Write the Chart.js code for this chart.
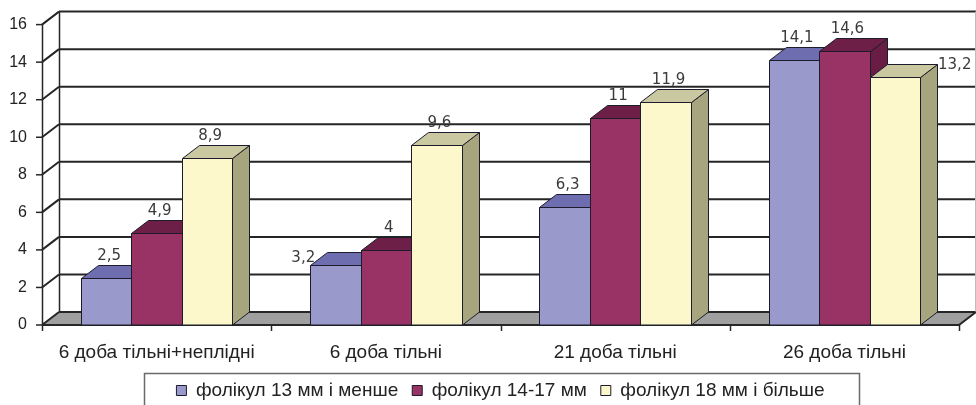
<!DOCTYPE html>
<html>
<head>
<meta charset="utf-8">
<script src="https://cdn.jsdelivr.net/npm/chart.js@4/dist/chart.umd.min.js"></script>
<style>
  html, body { margin: 0; padding: 0; background: #ffffff; }
  #wrap { width: 976px; height: 405px; position: relative; }
</style>
</head>
<body>
<div id="wrap"><canvas id="chart"></canvas></div>
<script>
// Categories (groups along the x axis)
const categories = ['6 доба тільні+неплідні', '6 доба тільні', '21 доба тільні', '26 доба тільні'];

// Series names
const seriesNames = ['фолікул 13 мм і менше', 'фолікул 14-17 мм', 'фолікул 18 мм і більше'];

// Series values, one per category
const follicleSmall  = [2.5, 3.2, 6.3, 14.1];
const follicleMedium = [4.9, 4, 11, 14.6];
const follicleLarge  = [8.9, 9.6, 11.9, 13.2];

// Value axis ticks
const yTickValues = [0, 2, 4, 6, 8, 10, 12, 14, 16];

// Face colours of the boxes: front, top, side
const palette = [
  { front: '#9999cc', top: '#6d6db0', side: '#6f6f9c' },
  { front: '#993366', top: '#6e1f47', side: '#6a1d44' },
  { front: '#fcf8cc', top: '#c9c8a0', side: '#a6a57e' }
];

// Depth of the pseudo-3D extrusion
const DEPTH_X = 17;
const DEPTH_Y = 13;
const LINE = '#262626';

// Horizontal nudge of the legend row
const LEGEND_SHIFT = 21;

// Labels that sit beside the box instead of above it
const labelSide = { '0-1': 'left', '2-3': 'right' };

const fmt = v => String(v).replace('.', ',');

const box3d = {
  id: 'box3d',
  afterLayout(chart) {
    const lg = chart.legend;
    if (lg) {
      lg.left += LEGEND_SHIFT;
      lg.right += LEGEND_SHIFT;
    }
  },
  beforeDatasetsDraw(chart) {
    const ctx = chart.ctx;
    const ca = chart.chartArea;
    const ys = chart.scales.y;
    const L = ca.left, R = ca.right, B = ca.bottom;
    const dx = DEPTH_X, dy = DEPTH_Y;
    const yTop = ys.getPixelForValue(16);
    ctx.save();

    // floor
    ctx.beginPath();
    ctx.moveTo(L, B);
    ctx.lineTo(L + dx, B - dy);
    ctx.lineTo(R + dx, B - dy);
    ctx.lineTo(R, B);
    ctx.closePath();
    ctx.fillStyle = '#9f9f9f';
    ctx.fill();

    // grid on back wall and left wall, tick marks
    ctx.strokeStyle = LINE;
    yTickValues.forEach(v => {
      const y = ys.getPixelForValue(v);
      ctx.lineWidth = 2;
      ctx.beginPath();
      ctx.moveTo(L + dx, y - dy);
      ctx.lineTo(R + dx, y - dy);
      ctx.moveTo(L, y);
      ctx.lineTo(L + dx, y - dy);
      ctx.stroke();
      ctx.lineWidth = 1.5;
      ctx.beginPath();
      ctx.moveTo(L - 6, y);
      ctx.lineTo(L, y);
      ctx.stroke();
    });

    // wall edges
    ctx.lineWidth = 1.5;
    ctx.beginPath();
    ctx.moveTo(L + 0.5, yTop);
    ctx.lineTo(L + 0.5, B);
    ctx.moveTo(L + dx + 0.5, yTop - dy);
    ctx.lineTo(L + dx + 0.5, B - dy);
    ctx.stroke();
    ctx.strokeStyle = '#bdbdbd';
    ctx.lineWidth = 1;
    ctx.beginPath();
    ctx.moveTo(R + dx - 0.5, yTop - dy);
    ctx.lineTo(R + dx - 0.5, B - dy);
    ctx.stroke();

    // front edge of the floor (category axis) and its right end
    ctx.strokeStyle = LINE;
    ctx.lineWidth = 2;
    ctx.beginPath();
    ctx.moveTo(L, B);
    ctx.lineTo(R, B);
    ctx.lineTo(R + dx, B - dy);
    ctx.stroke();

    // category boundary ticks
    ctx.lineWidth = 1.5;
    const step = (R - L) / categories.length;
    for (let i = 0; i <= categories.length; i++) {
      const x = Math.round(L + step * i) + 0.5;
      ctx.beginPath();
      ctx.moveTo(x, B);
      ctx.lineTo(x, B + 6);
      ctx.stroke();
    }

    // boxes: left to right inside each group so nearer faces cover the farther ones
    const metas = chart.data.datasets.map((d, i) => chart.getDatasetMeta(i));
    ctx.lineWidth = 1;
    ctx.strokeStyle = '#1c1c2c';
    ctx.lineJoin = 'round';
    for (let i = 0; i < categories.length; i++) {
      metas.forEach((meta, d) => {
        const bar = meta.data[i];
        const c = palette[d];
        const l = Math.round(bar.x - bar.width / 2) + 0.5;
        const r = Math.round(bar.x + bar.width / 2) + 0.5;
        const t = Math.round(bar.y) + 0.5;
        const b = Math.round(bar.base);
        // side
        ctx.beginPath();
        ctx.moveTo(r, t);
        ctx.lineTo(r + dx, t - dy);
        ctx.lineTo(r + dx, b - dy);
        ctx.lineTo(r, b);
        ctx.closePath();
        ctx.fillStyle = c.side;
        ctx.fill();
        ctx.stroke();
        // top
        ctx.beginPath();
        ctx.moveTo(l, t);
        ctx.lineTo(l + dx, t - dy);
        ctx.lineTo(r + dx, t - dy);
        ctx.lineTo(r, t);
        ctx.closePath();
        ctx.fillStyle = c.top;
        ctx.fill();
        ctx.stroke();
        // front
        ctx.beginPath();
        ctx.rect(l, t, r - l, b - t);
        ctx.fillStyle = c.front;
        ctx.fill();
        ctx.stroke();
      });
    }
    ctx.restore();
    return false;
  },
  afterDraw(chart) {
    const ctx = chart.ctx;
    ctx.save();
    // value labels
    ctx.font = '15px "DejaVu Sans", sans-serif';
    ctx.fillStyle = '#3a3a3a';
    chart.data.datasets.forEach((ds, d) => {
      const meta = chart.getDatasetMeta(d);
      meta.data.forEach((bar, i) => {
        const text = fmt(ds.data[i]);
        const l = bar.x - bar.width / 2;
        const r = bar.x + bar.width / 2;
        const side = labelSide[d + '-' + i];
        if (side === 'right') {
          ctx.textAlign = 'left';
          ctx.textBaseline = 'middle';
          ctx.fillText(text, r + DEPTH_X + 1, bar.y - DEPTH_Y + 1);
        } else if (side === 'left') {
          ctx.textAlign = 'right';
          ctx.textBaseline = 'middle';
          ctx.fillText(text, l + 5, bar.y - 7);
        } else {
          ctx.textAlign = 'center';
          ctx.textBaseline = 'alphabetic';
          ctx.fillText(text, bar.x + 3, bar.y - DEPTH_Y - 5);
        }
      });
    });

    // frame around the legend
    const lg = chart.legend;
    if (lg && lg.legendHitBoxes && lg.legendHitBoxes.length) {
      const hb = lg.legendHitBoxes;
      const first = hb[0], last = hb[hb.length - 1];
      const x0 = Math.round(first.left - 32) + 0.5;
      const x1 = Math.round(last.left + last.width + 34) + 0.5;
      const y0 = Math.round(first.top - 8) + 0.5;
      ctx.strokeStyle = '#6a6a6a';
      ctx.lineWidth = 1.5;
      ctx.beginPath();
      ctx.moveTo(x0, chart.height + 2);
      ctx.lineTo(x0, y0);
      ctx.lineTo(x1, y0);
      ctx.lineTo(x1, chart.height + 2);
      ctx.stroke();
    }
    ctx.restore();
  }
};

const datasets = [follicleSmall, follicleMedium, follicleLarge].map((values, i) => ({
  label: seriesNames[i],
  data: values,
  backgroundColor: palette[i].front,
  borderColor: '#1c1c2c',
  borderWidth: 1
}));

new Chart(document.getElementById('chart'), {
  type: 'bar',
  data: { labels: categories, datasets },
  plugins: [box3d],
  options: {
    responsive: true,
    maintainAspectRatio: false,
    animation: false,
    events: [],
    layout: { padding: { top: 23, right: 17, left: 0, bottom: 0 } },
    datasets: { bar: { categoryPercentage: 0.66, barPercentage: 1.0 } },
    scales: {
      x: {
        grid: { display: false, drawTicks: false },
        border: { display: false },
        ticks: {
          padding: 16,
          color: '#222222',
          font: { family: '"Liberation Sans", Arial, sans-serif', size: 19 }
        },
        afterFit(s) { s.height = 42; }
      },
      y: {
        min: 0,
        max: 16,
        grid: { display: false, drawTicks: false },
        border: { display: false },
        ticks: {
          stepSize: 2,
          padding: 15,
          color: '#222222',
          font: { family: '"Liberation Sans", Arial, sans-serif', size: 16 }
        },
        afterFit(s) { s.width = 42; }
      }
    },
    plugins: {
      tooltip: { enabled: false },
      legend: {
        position: 'bottom',
        maxHeight: 38,
        labels: {
          boxWidth: 10,
          boxHeight: 10,
          padding: 14,
          color: '#222222',
          font: { family: '"Liberation Sans", Arial, sans-serif', size: 19 }
        }
      }
    }
  }
});
</script>
</body>
</html>
